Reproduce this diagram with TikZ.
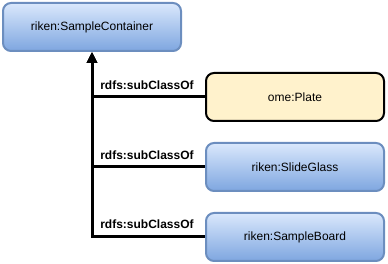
\documentclass[tikz,border=0pt]{standalone}
\usepackage{fontspec}
\setmainfont{Liberation Sans}
\usetikzlibrary{arrows.meta}
\definecolor{blueTop}{HTML}{DAE8FC}
\definecolor{blueBot}{HTML}{7EA6E0}
\definecolor{blueLine}{HTML}{6C8EBF}
\definecolor{plateFill}{HTML}{FFF2CC}
\tikzset{
  classbox/.style={draw=blueLine, line width=2pt, rounded corners=8pt,
    top color=blueTop, bottom color=blueBot,
    minimum width=178pt, minimum height=48pt, inner sep=0pt,
    font=\fontsize{12}{14}\selectfont},
  platebox/.style={classbox, draw=black, fill=plateFill, top color=plateFill, bottom color=plateFill},
  subclass/.style={line width=3pt, -{Triangle[length=11pt,width=10pt]}},
  rel/.style={font=\bfseries\fontsize{12}{14}\selectfont, inner sep=0pt}
}
\begin{document}
\begin{tikzpicture}[x=1pt,y=-1pt]
\useasboundingbox (0,0) rectangle (388,264);
\node[classbox] (container) at (92,27) {riken:SampleContainer};
\node[platebox] (plate) at (295,97) {ome:Plate};
\node[classbox] (slide) at (295,167) {riken:SlideGlass};
\node[classbox] (board) at (295,237) {riken:SampleBoard};
\draw[subclass] (board.west) -| (container.south);
\draw[subclass] (slide.west) -| (container.south);
\draw[subclass] (plate.west) -| (container.south);
\node[rel] (l1) at (147,85) {rdfs:subClassOf};
\node[rel] (l2) at (147,155) {rdfs:subClassOf};
\node[rel] (l3) at (147,224) {rdfs:subClassOf};
\end{tikzpicture}
\end{document}
